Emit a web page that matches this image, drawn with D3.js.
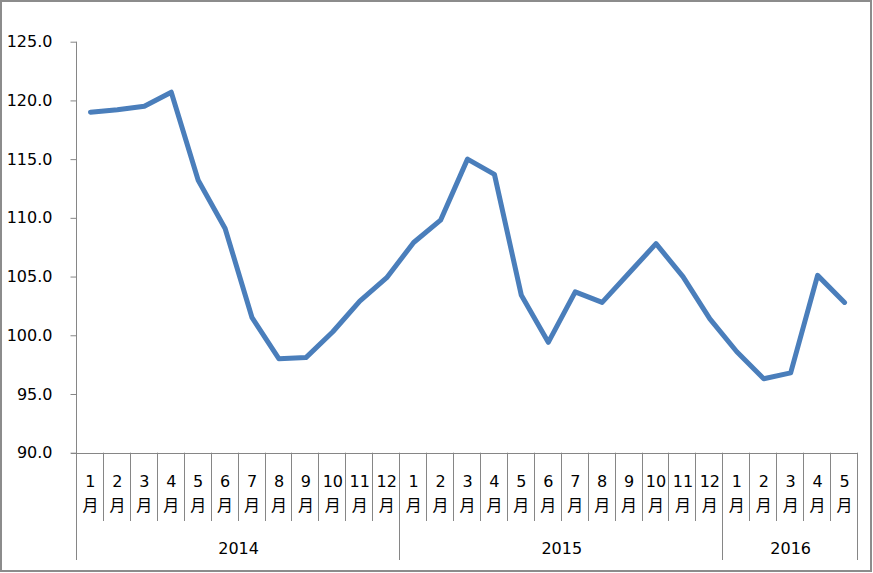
<!DOCTYPE html>
<html>
<head>
<meta charset="utf-8">
<script src="https://cdn.jsdelivr.net/npm/d3@7/dist/d3.min.js"></script>
<style>
  html, body { margin: 0; padding: 0; background: #fff; }
  svg { display: block; }
</style>
</head>
<body>
<svg id="chart" width="873" height="573"></svg>
<script>
// ---- data ----
const years = ["2014", "2015", "2016"];
const monthsPerYear = [12, 12, 5];
const monthLabels = ["1","2","3","4","5","6","7","8","9","10","11","12",
                     "1","2","3","4","5","6","7","8","9","10","11","12",
                     "1","2","3","4","5"];
const values = [119.0, 119.2, 119.5, 120.7, 113.2, 109.1, 101.5, 98.0, 98.1, 100.3, 102.9, 104.9,
                107.9, 109.8, 115.0, 113.7, 103.4, 99.4, 103.7, 102.8, 105.3, 107.8, 105.0, 101.4,
                98.6, 96.3, 96.8, 105.1, 102.8];
const yTicks = [90, 95, 100, 105, 110, 115, 120, 125];

// ---- layout ----
const svg = d3.select("#chart");
const pL = 77, pR = 858, pT = 41.7, pB = 452.7;
const axisColor = "#868686";
const numFont = "'DejaVu Sans', sans-serif";
const cjkFont = "'Noto Sans CJK SC', sans-serif";

const keys = values.map((v, i) => "c" + i);
const x = d3.scaleBand().domain(keys).range([pL, pR]).padding(0);
const y = d3.scaleLinear().domain([90, 125]).range([pB, pT]);

// outer border
svg.append("rect").attr("x", 1).attr("y", 1).attr("width", 870).attr("height", 570)
  .attr("fill", "none").attr("stroke", "#8c8c8c").attr("stroke-width", 2);

// y axis
const yAxis = d3.axisLeft(y).tickValues(yTicks).tickFormat(d3.format(".1f"))
  .tickSizeInner(6).tickSizeOuter(0).tickPadding(18);
const gy = svg.append("g").attr("transform", `translate(${pL - 0.5},0)`).call(yAxis);
gy.select(".domain").remove();
gy.selectAll(".tick line").attr("stroke", axisColor);
gy.selectAll(".tick text").attr("fill", "#000").style("font-family", numFont).style("font-size", "16px");

// y axis vertical line, extended down through the category area
svg.append("line").attr("x1", pL - 0.5).attr("x2", pL - 0.5).attr("y1", pT).attr("y2", 560)
  .attr("stroke", axisColor);

// x axis horizontal line
svg.append("line").attr("x1", pL - 6).attr("x2", pR).attr("y1", Math.round(pB) + 0.5).attr("y2", Math.round(pB) + 0.5)
  .attr("stroke", axisColor);

// category separators
const yearStarts = [];
let acc = 0;
monthsPerYear.forEach(n => { yearStarts.push(acc); acc += n; });
const g = svg.append("g");
for (let i = 1; i <= keys.length; i++) {
  const xx = i < keys.length ? x(keys[i]) : x(keys[i - 1]) + x.bandwidth();
  const isYear = yearStarts.includes(i) || i === keys.length;
  g.append("line")
    .attr("x1", Math.round(xx) - 0.5).attr("x2", Math.round(xx) - 0.5)
    .attr("y1", pB).attr("y2", isYear ? 560 : 521)
    .attr("stroke", axisColor);
}

// month labels
keys.forEach((k, i) => {
  const cx = x(k) + x.bandwidth() / 2;
  g.append("text").attr("x", cx).attr("y", 487).attr("text-anchor", "middle")
    .style("font-family", numFont).style("font-size", "16px").attr("fill", "#000")
    .text(monthLabels[i]);
  g.append("text").attr("x", cx).attr("y", 511).attr("text-anchor", "middle")
    .style("font-family", cjkFont).style("font-size", "16px").attr("fill", "#000")
    .text("月");
});

// year labels
years.forEach((yr, j) => {
  const s = yearStarts[j], n = monthsPerYear[j];
  const x0 = x(keys[s]), x1 = x(keys[s + n - 1]) + x.bandwidth();
  g.append("text").attr("x", (x0 + x1) / 2).attr("y", 554).attr("text-anchor", "middle")
    .style("font-family", numFont).style("font-size", "16px").attr("fill", "#000")
    .text(yr);
});

// line
const line = d3.line()
  .x((d, i) => x(keys[i]) + x.bandwidth() / 2)
  .y(d => y(d));
svg.append("path").datum(values)
  .attr("d", line)
  .attr("fill", "none")
  .attr("stroke", "#4a7ebb")
  .attr("stroke-width", 5)
  .attr("stroke-linejoin", "round")
  .attr("stroke-linecap", "round");
</script>
</body>
</html>
